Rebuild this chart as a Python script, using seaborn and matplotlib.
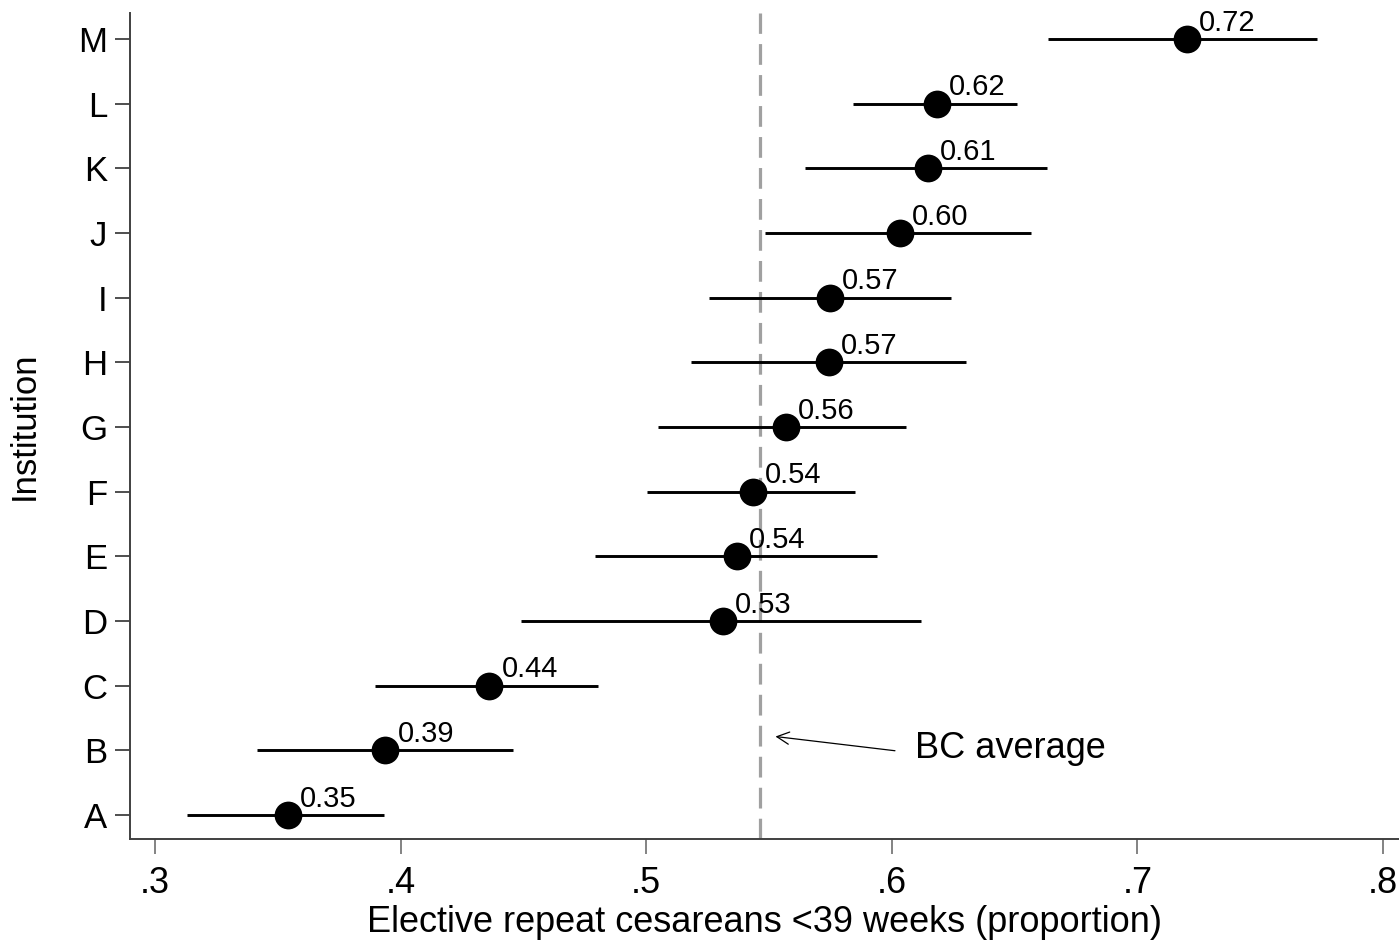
import pandas as pd
import numpy as np
import matplotlib
matplotlib.use('Agg')
import matplotlib.pyplot as plt
import seaborn as sns

# institution estimates
institutions = ['A', 'B', 'C', 'D', 'E', 'F', 'G', 'H', 'I', 'J', 'K', 'L', 'M']
estimate = [0.354, 0.3936, 0.436, 0.5312, 0.5369, 0.5434, 0.5568, 0.5743, 0.5747, 0.6032, 0.6146, 0.6183, 0.7200]
ci_low = [0.313, 0.3415, 0.3895, 0.449, 0.4791, 0.5002, 0.5047, 0.5182, 0.5255, 0.5483, 0.5646, 0.584, 0.6635]
ci_high = [0.3932, 0.4457, 0.4803, 0.6118, 0.5939, 0.5849, 0.6057, 0.630, 0.624, 0.6565, 0.663, 0.651, 0.7733]
bc_average = 0.5462
xticks = [0.3, 0.4, 0.5, 0.6, 0.7, 0.8]
xtick_labels = ['.3', '.4', '.5', '.6', '.7', '.8']

df = pd.DataFrame({'Institution': institutions, 'est': estimate, 'lo': ci_low, 'hi': ci_high})
df['pos'] = np.arange(len(df))

sns.set_style('white')
plt.rcParams['font.family'] = ['Liberation Sans', 'DejaVu Sans']
plt.rcParams['text.color'] = 'black'
plt.rcParams['axes.labelcolor'] = 'black'
plt.rcParams['xtick.labelcolor'] = 'black'
plt.rcParams['ytick.labelcolor'] = 'black'

fig = plt.figure(figsize=(13.99, 9.40), dpi=100)
ax = fig.add_axes([0.0929, 0.1074, 0.9071, 0.8788])

# dashed line for the provincial average
ax.axvline(bc_average, color='#a0a0a0', lw=2.3, dashes=(6.5, 3.2), zorder=1)

# confidence intervals
ax.hlines(df['pos'], df['lo'], df['hi'], color='black', lw=2.1, zorder=2)
sns.scatterplot(data=df, x='est', y='pos', color='black', s=400, edgecolor='black',
                linewidth=0, zorder=3, ax=ax, legend=False)

for _, row in df.iterrows():
    ax.annotate(f"{row['est']:.2f}", xy=(row['est'], row['pos']), xytext=(9, 6),
                textcoords='offset points', ha='left', va='baseline', fontsize=21)

# arrow + label for the BC average
ax.annotate('', xy=(bc_average + 0.0053, 1.22), xytext=(bc_average + 0.0562, 0.99),
            arrowprops=dict(arrowstyle='->', color='black', lw=0.9, mutation_scale=22))
ax.text(bc_average + 0.0631, 0.88, 'BC average', fontsize=26, ha='left', va='baseline')

ax.set_xlim(0.2898, 0.8065)
ax.set_ylim(-0.37, 12.4)
ax.set_xticks(xticks)
ax.set_xticklabels(xtick_labels)
ax.set_yticks(df['pos'])
ax.set_yticklabels(df['Institution'])

sns.despine(ax=ax)
for s in ['left', 'bottom']:
    ax.spines[s].set_color('#404040')
    ax.spines[s].set_linewidth(1.4)

ax.tick_params(axis='x', which='both', length=10.5, width=1.3, color='#7a7a7a',
               labelsize=26, pad=9, bottom=True)
ax.tick_params(axis='y', which='both', length=10.5, width=1.3, color='#404040',
               labelsize=25, pad=6, left=True)

ax.set_xlabel('Elective repeat cesareans <39 weeks (proportion)', fontsize=26, labelpad=3)
ax.set_ylabel('Institution', fontsize=25)
ax.yaxis.set_label_coords(-0.070, 0.5)

fig.savefig('out.png', dpi=100)
